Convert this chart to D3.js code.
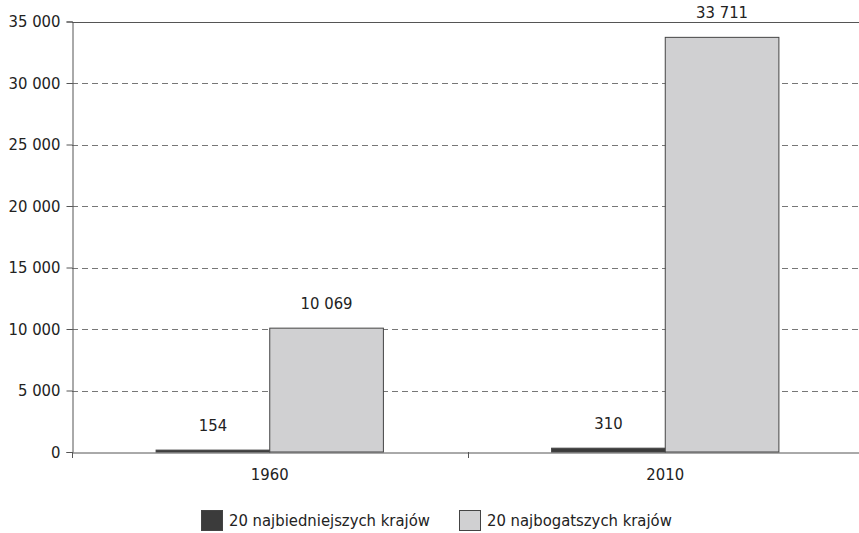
<!DOCTYPE html>
<html>
<head>
<meta charset="utf-8">
<script src="https://cdn.jsdelivr.net/npm/d3@7"></script>
<style>
  body { margin: 0; background: #fff; }
  svg text { font-family: "DejaVu Sans Condensed", "Liberation Sans Narrow", sans-serif; font-stretch: condensed; font-size: 16.5px; fill: #222; }
</style>
</head>
<body>
<svg id="chart" width="859" height="533"></svg>
<script>
// data
let years = ["1960", "2010"];
let seriesNames = ["20 najbiedniejszych krajów", "20 najbogatszych krajów"];
let poorest = [154, 310];
let richest = [10069, 33711];
let yTicks = [0, 5000, 10000, 15000, 20000, 25000, 30000, 35000];

let colors = ["#3b3b3b", "#d0d0d2"];

let svg = d3.select("#chart");

//plot area
let plotLeft = 72, plotRight = 863, plotTop = 21.5, plotBottom = 452;

let x = d3.scaleBand()
    .domain(years)
    .range([plotLeft, plotRight]);

//two bars side by side inside each year
let xInner = d3.scaleBand()
    .domain([0, 1])
    .range([0, x.bandwidth()])
    .paddingOuter(0.74)
    .paddingInner(0);

let y = d3.scaleLinear()
    .domain([0, 35000])
    .range([plotBottom, plotTop]);

let fmt = v => d3.format(",")(v).replace(/,/g, " ");

//gridlines
svg.append("g")
    .selectAll("line")
    .data(yTicks.filter(t => t > 0))
    .enter()
    .append("line")
    .attr("x1", plotLeft)
    .attr("x2", 859)
    .attr("y1", d => Math.round(y(d)) + 0.5)
    .attr("y2", d => Math.round(y(d)) + 0.5)
    .attr("stroke", d => d === 35000 ? "#555" : "#777")
    .attr("stroke-dasharray", d => d === 35000 ? null : "6,4");

//y axis
let yAxis = svg.append("g")
    .attr("transform", `translate(${plotLeft + 0.5},0)`)
    .call(d3.axisLeft(y).tickValues(yTicks).tickSize(6).tickPadding(6).tickFormat(fmt));
yAxis.select(".domain").attr("stroke", "#555");
yAxis.selectAll(".tick line").attr("stroke", "#555");
yAxis.selectAll("text").style("font-size", "16.5px");

//x axis
let xAxis = svg.append("g")
    .attr("transform", `translate(0,${plotBottom + 0.5})`)
    .call(d3.axisBottom(x).tickSize(0).tickPadding(16));
xAxis.select(".domain").attr("stroke", "#555");
xAxis.selectAll("text").style("font-size", "16.5px");

//x ticks between categories
svg.append("g")
    .selectAll("line")
    .data(years.map(d => x(d)).concat([plotRight]))
    .enter()
    .append("line")
    .attr("x1", d => Math.round(d) + 0.5)
    .attr("x2", d => Math.round(d) + 0.5)
    .attr("y1", plotBottom)
    .attr("y2", plotBottom + 6)
    .attr("stroke", "#555");

//bars
let rows = years.map((yr, i) => ({ year: yr, vals: [poorest[i], richest[i]] }));

let groups = svg.append("g")
    .selectAll("g")
    .data(rows)
    .enter()
    .append("g")
    .attr("transform", d => `translate(${x(d.year)},0)`);

groups.selectAll("rect")
    .data(d => d.vals)
    .enter()
    .append("rect")
    .attr("x", (d, i) => xInner(i))
    .attr("width", xInner.bandwidth())
    .attr("y", d => y(d))
    .attr("height", d => plotBottom - y(d))
    .attr("fill", (d, i) => colors[i])
    .attr("stroke", "#444")
    .attr("stroke-width", 1);

groups.selectAll("text.val")
    .data(d => d.vals)
    .enter()
    .append("text")
    .attr("class", "val")
    .attr("x", (d, i) => xInner(i) + xInner.bandwidth() / 2)
    .attr("y", d => y(d) - 19)
    .attr("text-anchor", "middle")
    .text(fmt);

//legend
let legend = svg.append("g");
let legendX = [201, 459];
seriesNames.forEach((name, i) => {
    legend.append("rect")
        .attr("x", legendX[i] + 0.5)
        .attr("y", 510.5)
        .attr("width", 21)
        .attr("height", 20)
        .attr("fill", colors[i])
        .attr("stroke", "#444");
    legend.append("text")
        .attr("x", legendX[i] + 28)
        .attr("y", 526)
        .text(name);
});
</script>
</body>
</html>
